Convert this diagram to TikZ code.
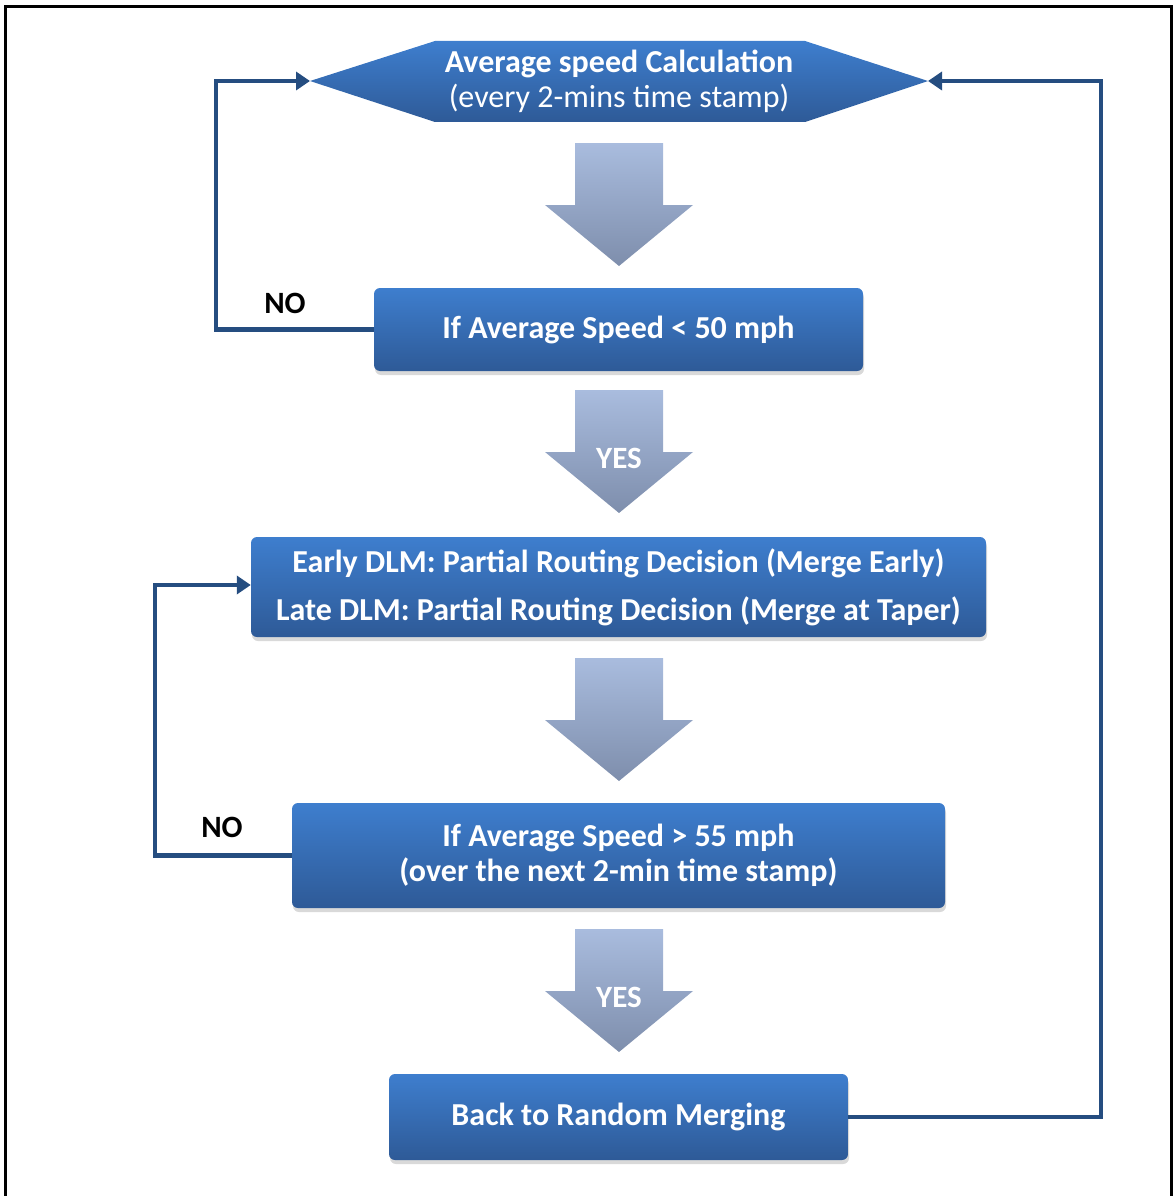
\documentclass[tikz,border=0pt]{standalone}
\usepackage{fontspec}
\setmainfont{Carlito}
\usetikzlibrary{arrows.meta,shadows,calc}
\definecolor{boxtop}{HTML}{3E7ECE}
\definecolor{boxbot}{HTML}{2E5A97}
\definecolor{arrtop}{HTML}{A9BCDE}
\definecolor{arrbot}{HTML}{7E8EAC}
\definecolor{linkc}{HTML}{254D80}
\newcommand\flowarrow[1]{%
  \path[arrowfill] (575,#1) -- (663,#1) -- (663,{#1+62}) -- (693,{#1+62})
    -- (619,{#1+123}) -- (545,{#1+62}) -- (575,{#1+62}) -- cycle;}
\begin{document}
\begin{tikzpicture}[x=1pt,y=-1pt,
  box/.style={rounded corners=6pt, top color=boxtop, bottom color=boxbot,
    text=white, font=\bfseries\fontsize{32}{35}\selectfont, align=center,
    inner sep=0pt,
    drop shadow={opacity=0.3, shadow xshift=1pt, shadow yshift=-4pt}},
  arrowfill/.style={top color=arrtop, bottom color=arrbot},
  link/.style={draw=linkc, line width=4.5pt, -{Triangle[length=14pt,width=18pt]}},
  lbl/.style={font=\bfseries\fontsize{31}{32}\selectfont},
  yes/.style={font=\bfseries\fontsize{31}{32}\selectfont, text=white}]
\useasboundingbox (0,0) rectangle (1173,1196);
\draw[line width=3pt] (5,7) rectangle (1171,1200);

% hexagon
\coordinate (hexL) at (310,81);
\coordinate (hexR) at (928,81);
\path[top color=boxtop, bottom color=boxbot] (hexL) -- (435,41) -- (805,41)
  -- (hexR) -- (805,122) -- (435,122) -- cycle;
\node[align=center, text=white, font=\fontsize{32}{35}\selectfont] (hex) at (619,81)
  {\textbf{Average speed Calculation}\\(every 2-mins time stamp)};

\node[box, minimum width=489pt, minimum height=83pt] (b2) at (618.5,329.5)
  {If Average Speed < 50 mph};
\node[box, minimum width=735pt, minimum height=100pt,
  font=\bfseries\fontsize{32}{48}\selectfont] (b3) at (618.5,587)
  {Early DLM: Partial Routing Decision (Merge Early)\\Late DLM: Partial Routing Decision (Merge at Taper)};
\node[box, minimum width=653pt, minimum height=105pt] (b4) at (618.5,855.5)
  {If Average Speed > 55 mph\\(over the next 2-min time stamp)};
\node[box, minimum width=459pt, minimum height=86pt] (b5) at (618.5,1117)
  {Back to Random Merging};

\flowarrow{143}
\flowarrow{390}
\flowarrow{658}
\flowarrow{929}
\node[yes] (yes1) at (619,458) {YES};
\node[yes] (yes2) at (619,997) {YES};

\draw[link] (b2.west) -| (216,81) -- (hexL);
\draw[link] (b4.west) -| (155,585) -- (b3.west |- 0,585);
\draw[link] (b5.east) -| (1101,81) -- (hexR);
\node[lbl] (no1) at (285,303) {NO};
\node[lbl] (no2) at (222,827) {NO};
\end{tikzpicture}
\end{document}
